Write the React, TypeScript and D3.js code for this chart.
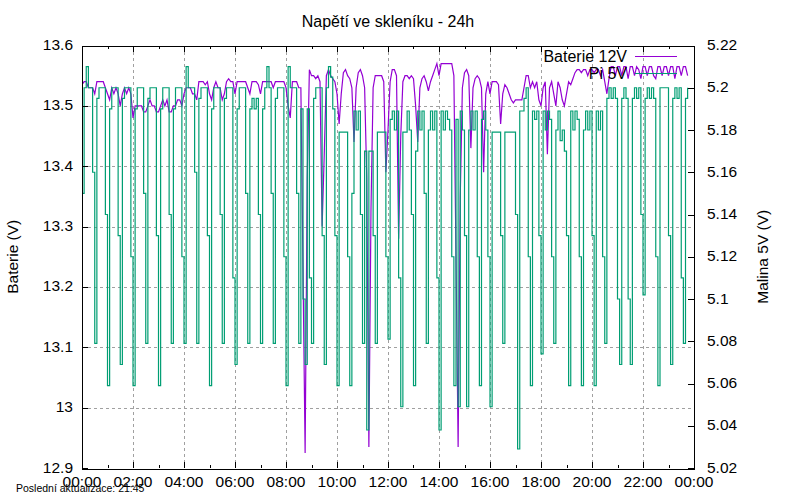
import React, { useEffect, useRef } from 'react';
import * as d3 from 'd3';

const chartTitle = 'Napětí ve skleníku - 24h';
const updateNote = 'Poslední aktualizace: 21:45';
const leftAxisTitle = 'Baterie (V)';
const rightAxisTitle = 'Malina 5V (V)';
const seriesNames = ['Baterie 12V', 'Pi 5V'];
const seriesColors = ['#9400d3', '#009e73'];

const xTickLabels = ['00:00', '02:00', '04:00', '06:00', '08:00', '10:00', '12:00',
  '14:00', '16:00', '18:00', '20:00', '22:00', '00:00'];
const leftTicks = [12.9, 13.0, 13.1, 13.2, 13.3, 13.4, 13.5, 13.6];
const leftTickLabels = ['12.9', '13', '13.1', '13.2', '13.3', '13.4', '13.5', '13.6'];
const rightTicks = [5.02, 5.04, 5.06, 5.08, 5.1, 5.12, 5.14, 5.16, 5.18, 5.2, 5.22];
const rightTickLabels = ['5.02', '5.04', '5.06', '5.08', '5.1', '5.12', '5.14', '5.16', '5.18', '5.2', '5.22'];

// samples every 5 minutes, first one just before midnight
const startMinute = -5;
const stepMinutes = 5;

// Baterie 12V, one row per hour
const batteryVolts = [
  13.53, 13.535, 13.54, 13.54, 13.53, 13.53, 13.53, 13.52, 13.54, 13.54, 13.54, 13.54,
  13.53, 13.52, 13.51, 13.53, 13.52, 13.53, 13.52, 13.50, 13.52, 13.53, 13.52, 13.53,
  13.52, 13.48, 13.50, 13.50, 13.50, 13.50, 13.49, 13.49, 13.50, 13.51, 13.50, 13.50,
  13.49, 13.49, 13.50, 13.51, 13.50, 13.51, 13.49, 13.49, 13.50, 13.50, 13.51, 13.51,
  13.50, 13.52, 13.53, 13.53, 13.53, 13.52, 13.52, 13.51, 13.54, 13.54, 13.54, 13.535,
  13.54, 13.52, 13.51, 13.53, 13.54, 13.53, 13.53, 13.51, 13.52, 13.54, 13.545, 13.54,
  13.54, 13.52, 13.54, 13.54, 13.54, 13.54, 13.54, 13.53, 13.52, 13.54, 13.54, 13.54,
  13.535, 13.52, 13.54, 13.54, 13.54, 13.54, 13.54, 13.53, 13.54, 13.54, 13.54, 13.54,
  13.54, 13.53, 13.50, 13.48, 13.54, 13.54, 13.54, 13.53, 13.53, 13.23, 12.925, 13.38,
  13.56, 13.55, 13.55, 13.545, 13.55, 13.54, 13.30, 13.42, 13.55, 13.56, 13.55, 13.545,
  13.54, 13.52, 13.47, 13.52, 13.555, 13.56, 13.55, 13.545, 13.53, 13.44, 13.53, 13.555,
  13.56, 13.55, 13.53, 13.38, 12.935, 13.33, 13.53, 13.55, 13.55, 13.55, 13.55, 13.54,
  13.39, 13.46, 13.54, 13.56, 13.56, 13.55, 13.28, 13.45, 13.54, 13.55, 13.55, 13.545,
  13.55, 13.545, 13.50, 13.44, 13.53, 13.545, 13.55, 13.54, 13.525, 13.54, 13.55, 13.56,
  13.57, 13.55, 13.57, 13.57, 13.57, 13.57, 13.57, 13.57, 13.55, 13.25, 12.935, 13.35,
  13.53, 13.555, 13.56, 13.55, 13.43, 13.53, 13.545, 13.55, 13.545, 13.53, 13.39, 13.52,
  13.54, 13.52, 13.54, 13.54, 13.54, 13.535, 13.47, 13.52, 13.535, 13.53, 13.52, 13.51,
  13.505, 13.51, 13.51, 13.51, 13.51, 13.53, 13.55, 13.55, 13.53, 13.54, 13.53, 13.54,
  13.51, 13.50, 13.53, 13.54, 13.42, 13.53, 13.54, 13.52, 13.50, 13.54, 13.53, 13.51,
  13.50, 13.52, 13.54, 13.535, 13.545, 13.555, 13.56, 13.56, 13.555, 13.56, 13.56, 13.55,
  13.56, 13.56, 13.555, 13.56, 13.56, 13.55, 13.56, 13.54, 13.52, 13.545, 13.565, 13.565,
  13.55, 13.565, 13.565, 13.55, 13.565, 13.565, 13.545, 13.565, 13.565, 13.55, 13.565, 13.56,
  13.545, 13.565, 13.565, 13.55, 13.565, 13.565, 13.55, 13.545, 13.565, 13.565, 13.55, 13.565,
  13.565, 13.55, 13.565, 13.565, 13.545, 13.565, 13.565, 13.55, 13.565, 13.565, 13.55,
];

// Pi 5V (right axis), one row per hour
const piVolts = [
  5.10, 5.15, 5.20, 5.21, 5.20, 5.20, 5.16, 5.079, 5.195, 5.20, 5.20, 5.20,
  5.14, 5.059, 5.19, 5.20, 5.20, 5.20, 5.13, 5.069, 5.195, 5.20, 5.20, 5.20,
  5.12, 5.059, 5.19, 5.20, 5.20, 5.20, 5.15, 5.079, 5.195, 5.20, 5.20, 5.20,
  5.13, 5.059, 5.19, 5.20, 5.20, 5.20, 5.14, 5.079, 5.19, 5.20, 5.20, 5.20,
  5.12, 5.079, 5.21, 5.20, 5.20, 5.20, 5.16, 5.079, 5.195, 5.20, 5.20, 5.20,
  5.13, 5.059, 5.19, 5.20, 5.20, 5.20, 5.14, 5.079, 5.195, 5.20, 5.20, 5.20,
  5.11, 5.069, 5.19, 5.20, 5.20, 5.20, 5.15, 5.079, 5.19, 5.195, 5.19, 5.195,
  5.14, 5.079, 5.19, 5.20, 5.21, 5.20, 5.15, 5.079, 5.195, 5.20, 5.20, 5.20,
  5.12, 5.059, 5.21, 5.20, 5.20, 5.20, 5.15, 5.079, 5.19, 5.10, 5.069, 5.19,
  5.11, 5.079, 5.195, 5.20, 5.20, 5.20, 5.13, 5.069, 5.20, 5.21, 5.205, 5.19,
  5.13, 5.059, 5.179, 5.179, 5.179, 5.179, 5.12, 5.059, 5.15, 5.189, 5.18, 5.189,
  5.14, 5.079, 5.17, 5.038, 5.17, 5.17, 5.13, 5.079, 5.179, 5.179, 5.179, 5.179,
  5.12, 5.081, 5.185, 5.189, 5.18, 5.189, 5.11, 5.049, 5.179, 5.179, 5.189, 5.18,
  5.14, 5.059, 5.17, 5.189, 5.18, 5.189, 5.15, 5.079, 5.18, 5.189, 5.18, 5.189,
  5.11, 5.038, 5.189, 5.18, 5.189, 5.185, 5.18, 5.12, 5.059, 5.185, 5.049, 5.189,
  5.18, 5.13, 5.049, 5.18, 5.189, 5.18, 5.189, 5.12, 5.059, 5.185, 5.189, 5.18,
  5.12, 5.049, 5.179, 5.179, 5.179, 5.179, 5.13, 5.079, 5.179, 5.179, 5.179, 5.179,
  5.179, 5.14, 5.029, 5.189, 5.189, 5.195, 5.20, 5.12, 5.059, 5.189, 5.185, 5.189,
  5.13, 5.074, 5.189, 5.18, 5.189, 5.185, 5.12, 5.079, 5.18, 5.189, 5.175, 5.18,
  5.17, 5.13, 5.059, 5.189, 5.18, 5.189, 5.185, 5.12, 5.059, 5.18, 5.189, 5.18,
  5.189, 5.13, 5.059, 5.189, 5.18, 5.189, 5.12, 5.079, 5.195, 5.20, 5.195, 5.20,
  5.195, 5.10, 5.069, 5.195, 5.20, 5.195, 5.10, 5.069, 5.195, 5.20, 5.195, 5.20,
  5.14, 5.102, 5.195, 5.20, 5.195, 5.20, 5.195, 5.12, 5.059, 5.20, 5.20, 5.20,
  5.20, 5.13, 5.069, 5.195, 5.20, 5.195, 5.20, 5.11, 5.079, 5.195, 5.20,
];

function VoltageChart() {
  const svgRef = useRef(null);
  const width = 800;
  const height = 500;

  useEffect(() => {
    if (!svgRef.current) return;
    const svg = d3.select(svgRef.current);
    svg.selectAll('*').remove();

    const left = 82, right = 694, top = 45.5, bottom = 468;
    const font = '"Liberation Sans", Arial, sans-serif';
    const fs = 15.5;

    const x = d3.scaleLinear().domain([0, 24 * 60]).range([left, right]);
    const yLeft = d3.scaleLinear().domain([12.9, 13.6]).range([bottom, top]);
    const yRight = d3.scaleLinear().domain([5.02, 5.22]).range([bottom, top]);
    const minuteOf = (i) => startMinute + i * stepMinutes;

    svg.append('rect').attr('width', width).attr('height', height).attr('fill', '#fff');

    svg.append('defs').append('clipPath').attr('id', 'plot-clip')
      .append('rect')
      .attr('x', left).attr('y', top)
      .attr('width', right - left).attr('height', bottom - top);

    // grid
    const grid = svg.append('g')
      .attr('stroke', '#a0a0a0')
      .attr('stroke-width', 1)
      .attr('stroke-dasharray', '3,3')
      .attr('shape-rendering', 'crispEdges');
    xTickLabels.slice(1, -1).forEach((_, k) => {
      const px = Math.round(x((k + 1) * 120)) + 0.5;
      grid.append('line').attr('x1', px).attr('x2', px).attr('y1', top).attr('y2', bottom);
    });
    leftTicks.slice(1, -1).forEach((v) => {
      const py = Math.round(yLeft(v)) + 0.5;
      grid.append('line').attr('x1', left).attr('x2', right).attr('y1', py).attr('y2', py);
    });

    // lines: battery drawn first, Pi on top (gnuplot order)
    const plot = svg.append('g').attr('clip-path', 'url(#plot-clip)');
    const batteryLine = d3.line().x((_, i) => x(minuteOf(i))).y((d) => yLeft(d));
    const piLine = d3.line()
      .x((_, i) => x(minuteOf(i)))
      .y((d) => yRight(d))
      .curve(d3.curveStepAfter);
    plot.append('path')
      .attr('d', batteryLine(batteryVolts))
      .attr('fill', 'none')
      .attr('stroke', seriesColors[0])
      .attr('stroke-width', 1.2);
    plot.append('path')
      .attr('d', piLine(piVolts))
      .attr('fill', 'none')
      .attr('stroke', seriesColors[1])
      .attr('stroke-width', 1.2);

    // border and ticks
    const axes = svg.append('g')
      .attr('stroke', '#000')
      .attr('stroke-width', 1)
      .attr('shape-rendering', 'crispEdges');
    axes.append('rect')
      .attr('x', left + 0.5).attr('y', Math.round(top) + 0.5)
      .attr('width', right - left).attr('height', Math.round(bottom - top))
      .attr('fill', 'none');

    d3.range(0, 24 * 60 + 1, 60).forEach((m) => {
      const len = m % 120 === 0 ? 6 : 3;
      const px = Math.round(x(m)) + 0.5;
      axes.append('line').attr('x1', px).attr('x2', px).attr('y1', bottom).attr('y2', bottom - len);
      axes.append('line').attr('x1', px).attr('x2', px).attr('y1', top).attr('y2', top + len);
    });
    leftTicks.forEach((v) => {
      const py = Math.round(yLeft(v)) + 0.5;
      axes.append('line').attr('x1', left).attr('x2', left + 6).attr('y1', py).attr('y2', py);
    });
    rightTicks.forEach((v) => {
      const py = Math.round(yRight(v)) + 0.5;
      axes.append('line').attr('x1', right).attr('x2', right - 6).attr('y1', py).attr('y2', py);
    });

    // labels
    const text = svg.append('g')
      .attr('font-family', font)
      .attr('font-size', fs)
      .attr('fill', '#000');

    xTickLabels.forEach((label, k) => {
      text.append('text')
        .attr('x', x(k * 120))
        .attr('y', 487)
        .attr('text-anchor', 'middle')
        .text(label);
    });
    leftTicks.forEach((v, k) => {
      text.append('text')
        .attr('x', 73)
        .attr('y', yLeft(v) + 4.5)
        .attr('text-anchor', 'end')
        .text(leftTickLabels[k]);
    });
    rightTicks.forEach((v, k) => {
      text.append('text')
        .attr('x', 707)
        .attr('y', yRight(v) + 4.5)
        .attr('text-anchor', 'start')
        .text(rightTickLabels[k]);
    });

    text.append('text')
      .attr('x', (left + right) / 2)
      .attr('y', 27)
      .attr('text-anchor', 'middle')
      .attr('font-size', 16)
      .text(chartTitle);

    text.append('text')
      .attr('transform', `translate(18,${(top + bottom) / 2}) rotate(-90)`)
      .attr('text-anchor', 'middle')
      .text(leftAxisTitle);
    text.append('text')
      .attr('transform', `translate(768,${(top + bottom) / 2}) rotate(-90)`)
      .attr('text-anchor', 'middle')
      .text(rightAxisTitle);

    text.append('text')
      .attr('x', 16)
      .attr('y', 492)
      .attr('font-size', 10.5)
      .text(updateNote);

    // legend
    seriesNames.forEach((name, k) => {
      const cy = 56 + k * 17;
      text.append('text')
        .attr('x', 627)
        .attr('y', cy + 5.5)
        .attr('text-anchor', 'end')
        .attr('font-size', 16)
        .text(name);
      svg.append('line')
        .attr('x1', 635).attr('x2', 677)
        .attr('y1', cy + 0.5).attr('y2', cy + 0.5)
        .attr('stroke', seriesColors[k])
        .attr('stroke-width', 1.2);
    });
  }, []);

  return <svg ref={svgRef} width={width} height={height} style={{ display: 'block' }} />;
}

export default function App() {
  useEffect(() => {
    document.body.style.margin = '0';
  }, []);
  return <VoltageChart />;
}
